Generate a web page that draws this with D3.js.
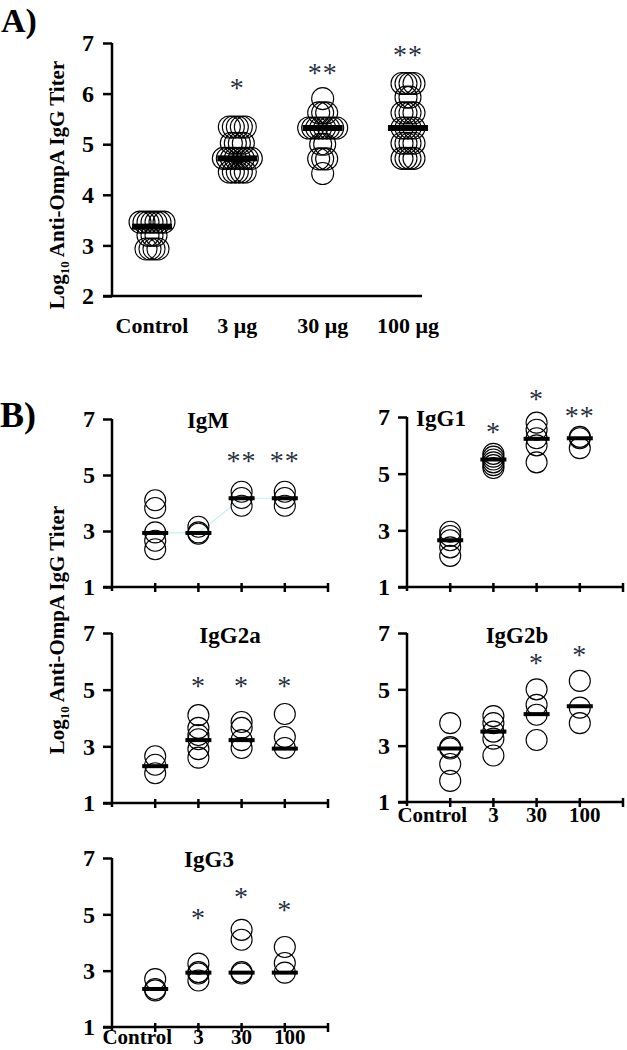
<!DOCTYPE html>
<html>
<head>
<meta charset="utf-8">
<script src="https://cdn.jsdelivr.net/npm/d3@7"></script>
<style>
html,body{margin:0;padding:0;background:#fff;}
svg{display:block;}
</style>
</head>
<body>
<svg id="chart" width="627" height="1050"></svg>
<script>
// ---------------- DATA ----------------
// Panel A
const groupsA = ["Control", "3 μg", "30 μg", "100 μg"];
const controlA = [3.46,3.46,3.46,3.46,3.46,3.46,3.46, 3.2,3.2,3.2, 2.93,2.93,2.93,2.93];
const dose3A   = [5.34,5.34,5.34,5.34,5.34, 5.02,5.02,5.02,5.02, 4.72,4.72,4.72,4.72,4.72,4.72,4.72,4.72, 4.45,4.45,4.45,4.45,4.45];
const dose30A  = [5.9, 5.62,5.62,5.62, 5.32,5.32,5.32,5.32,5.32,5.32,5.32,5.32, 5.0,5.0, 4.71,4.71,4.71, 4.42];
const dose100A = [6.2,6.2,6.2,6.2, 5.93,5.93, 5.62,5.62,5.62,5.62, 5.32,5.32,5.32,5.32, 5.02,5.02,5.02,5.02, 4.72,4.72,4.72,4.72];
const mediansA = [3.37, 4.72, 5.32, 5.32];
const starsA   = ["", "*", "**", "**"];
const starYA   = [null, 6.17, 6.47, 6.82];
const ticksA   = [2, 3, 4, 5, 6, 7];

// Panel B
const groupsB = ["Control", "3", "30", "100"];
const ticksB  = [1, 3, 5, 7];

const igmValues  = [[4.1,3.82,2.95,2.65,2.35],[3.15,2.95,2.9],[4.4,4.18,3.9],[4.4,4.18,3.9]];
const igmMedians = [2.93, 2.93, 4.17, 4.17];
const igmStars   = ["", "", "**", "**"];
const igmStarY   = [null, null, 5.6, 5.6];

const igg1Values  = [[2.95,2.8,2.65,2.4,2.1],[5.7,5.6,5.5,5.4,5.3,5.2],[6.8,6.55,6.25,6.0,5.4],[6.3,6.25,5.9]];
const igg1Medians = [2.65, 5.5, 6.23, 6.25];
const igg1Stars   = ["", "*", "*", "**"];
const igg1StarY   = [null, 6.58, 7.74, 7.14];

const igg2aValues  = [[2.65,2.35,2.05],[4.1,3.65,3.4,3.25,2.9,2.6],[3.86,3.65,3.22,2.94],[4.14,3.33,2.94]];
const igg2aMedians = [2.3, 3.22, 3.22, 2.92];
const igg2aStars   = ["", "*", "*", "*"];
const igg2aStarY   = [null, 5.24, 5.24, 5.24];

const igg2bValues  = [[3.8,2.95,2.9,2.35,1.75],[4.05,3.8,3.5,3.25,2.65],[5.0,4.45,4.1,3.2],[5.3,4.35,3.8]];
const igg2bMedians = [2.9, 3.5, 4.12, 4.4];
const igg2bStars   = ["", "", "*", "*"];
const igg2bStarY   = [null, null, 6.05, 6.33];

const igg3Values  = [[2.7,2.35,2.3],[3.25,2.95,2.9,2.65],[4.45,4.1,2.95,2.9],[3.84,3.27,2.93]];
const igg3Medians = [2.35, 2.93, 2.93, 2.93];
const igg3Stars   = ["", "*", "*", "*"];
const igg3StarY   = [null, 4.98, 5.72, 5.26];

// ---------------- DRAWING ----------------
const FONT = "'Liberation Serif','Times New Roman',Times,serif";
const STAR_COLOR = "#27303f";
const svg = d3.select("#chart");

function jitterOffsets(vals, step) {
  const counts = d3.rollup(vals, v => v.length, d => d);
  const seen = new Map();
  return vals.map(v => {
    const n = counts.get(v);
    const k = seen.get(v) || 0;
    seen.set(v, k + 1);
    return (k - (n - 1) / 2) * step;
  });
}

function styleAxis(g, fs) {
  g.select(".domain").remove();
  g.selectAll(".tick line").attr("stroke", "#000").attr("stroke-width", 2.5);
  g.selectAll(".tick text")
    .attr("font-family", FONT).attr("font-weight", "bold")
    .attr("font-size", fs).attr("fill", "#000");
}

function drawStar(g, x, y, s) {
  g.append("text")
    .attr("x", x).attr("y", y + 12)
    .attr("text-anchor", "middle")
    .attr("font-family", FONT).attr("font-size", 28)
    .attr("fill", STAR_COLOR)
    .attr("letter-spacing", 1)
    .text(s);
}

function yLabel(cx, cy) {
  const t = svg.append("text")
    .attr("transform", `translate(${cx},${cy}) rotate(-90)`)
    .attr("text-anchor", "middle")
    .attr("font-family", FONT).attr("font-weight", "bold")
    .attr("font-size", 21).attr("fill", "#000");
  t.append("tspan").text("Log");
  t.append("tspan").attr("font-size", 13).attr("dy", 5).text("10");
  t.append("tspan").attr("dy", -5).text(" Anti-OmpA IgG Titer");
}

// ---- Panel A ----
(function () {
  const axisX = 112;
  const y = d3.scaleLinear().domain([2, 7]).range([296, 43]);
  const x = d3.scaleLinear().domain([0, 3]).range([152, 408]);
  const g = svg.append("g");

  g.append("g").attr("transform", `translate(${axisX},0)`)
    .call(d3.axisLeft(y).tickValues(ticksA).tickSize(9).tickPadding(9).tickFormat(d3.format("d")))
    .call(a => styleAxis(a, 24));
  g.append("line").attr("x1", axisX).attr("x2", axisX).attr("y1", y(7)).attr("y2", y(2) + 1)
    .attr("stroke", "#000").attr("stroke-width", 2.5);
  g.append("line").attr("x1", axisX - 9).attr("x2", 422).attr("y1", y(2)).attr("y2", y(2))
    .attr("stroke", "#000").attr("stroke-width", 2.5);

  const seriesA = [controlA, dose3A, dose30A, dose100A];
  seriesA.forEach((vals, i) => {
    const offs = jitterOffsets(vals, 4);
    g.selectAll(null).data(vals).enter().append("circle")
      .attr("cx", (d, j) => x(i) + offs[j])
      .attr("cy", d => y(d))
      .attr("r", 11)
      .attr("fill", "none").attr("stroke", "#000").attr("stroke-width", 1.1);
  });
  g.selectAll(null).data(mediansA).enter().append("rect")
    .attr("x", (d, i) => x(i) - 20).attr("y", d => y(d) - 3)
    .attr("width", 40).attr("height", 6).attr("fill", "#000");
  starsA.forEach((s, i) => { if (s) drawStar(g, x(i), y(starYA[i]), s); });

  g.selectAll(null).data(groupsA).enter().append("text")
    .attr("x", (d, i) => x(i)).attr("y", 333)
    .attr("text-anchor", "middle")
    .attr("font-family", FONT).attr("font-weight", "bold").attr("font-size", 22)
    .text(d => d);

  svg.append("text").attr("x", 1).attr("y", 32)
    .attr("font-family", FONT).attr("font-weight", "bold").attr("font-size", 34).text("A)");
  yLabel(64, 185);
})();

// ---- Panel B ----
const labelShift = [-18, 0, 0, 5];
const panelsB = [
  {title: "IgM",   vals: igmValues,   med: igmMedians,   stars: igmStars,   starY: igmStarY,   ax: 112, top: 419, bot: 587, tx: 208, ty: 428, labels: false, link: true},
  {title: "IgG1",  vals: igg1Values,  med: igg1Medians,  stars: igg1Stars,  starY: igg1StarY,  ax: 407, top: 417, bot: 587, tx: 441, ty: 426, labels: false, link: false},
  {title: "IgG2a", vals: igg2aValues, med: igg2aMedians, stars: igg2aStars, starY: igg2aStarY, ax: 112, top: 633, bot: 803, tx: 230, ty: 643, labels: false, link: false},
  {title: "IgG2b", vals: igg2bValues, med: igg2bMedians, stars: igg2bStars, starY: igg2bStarY, ax: 407, top: 633, bot: 802, tx: 517, ty: 643, labels: true,  link: false},
  {title: "IgG3",  vals: igg3Values,  med: igg3Medians,  stars: igg3Stars,  starY: igg3StarY,  ax: 112, top: 858, bot: 1027, tx: 209, ty: 867, labels: true, link: false}
];

panelsB.forEach(p => {
  const g = svg.append("g");
  const y = d3.scaleLinear().domain([1, 7]).range([p.bot, p.top]);
  const x = d3.scaleLinear().domain([0, 5]).range([p.ax, p.ax + 216]);

  g.append("g").attr("transform", `translate(${p.ax},0)`)
    .call(d3.axisLeft(y).tickValues(ticksB).tickSize(9).tickPadding(8).tickFormat(d3.format("d")))
    .call(a => styleAxis(a, 24));
  g.append("line").attr("x1", p.ax).attr("x2", p.ax).attr("y1", y(7)).attr("y2", y(1) + 4)
    .attr("stroke", "#000").attr("stroke-width", 2.5);
  g.append("line").attr("x1", p.ax - 9).attr("x2", x(5)).attr("y1", y(1)).attr("y2", y(1))
    .attr("stroke", "#000").attr("stroke-width", 2.5);
  g.selectAll(null).data([1, 2, 3, 4, 5]).enter().append("line")
    .attr("x1", d => x(d)).attr("x2", d => x(d))
    .attr("y1", y(1) - 4).attr("y2", y(1) + 5)
    .attr("stroke", "#000").attr("stroke-width", 2.5);

  if (p.link) {
    g.append("path")
      .attr("d", d3.line().x((d, i) => x(i + 1)).y(d => y(d))(p.med))
      .attr("fill", "none").attr("stroke", "#bdf3f3").attr("stroke-width", 1.2);
  }

  p.vals.forEach((vals, i) => {
    g.selectAll(null).data(vals).enter().append("circle")
      .attr("cx", x(i + 1)).attr("cy", d => y(d)).attr("r", 10.5)
      .attr("fill", "none").attr("stroke", "#000").attr("stroke-width", 1.1);
  });
  g.selectAll(null).data(p.med).enter().append("rect")
    .attr("x", (d, i) => x(i + 1) - 13).attr("y", d => y(d) - 2)
    .attr("width", 26).attr("height", 4).attr("fill", "#000");
  p.stars.forEach((s, i) => { if (s) drawStar(g, x(i + 1), y(p.starY[i]), s); });

  g.append("text").attr("x", p.tx).attr("y", p.ty)
    .attr("text-anchor", "middle")
    .attr("font-family", FONT).attr("font-weight", "bold").attr("font-size", 23)
    .text(p.title);

  if (p.labels) {
    g.selectAll(null).data(groupsB).enter().append("text")
      .attr("x", (d, i) => x(i + 1) + labelShift[i]).attr("y", Math.min(y(1) + 20, 1044))
      .attr("text-anchor", "middle")
      .attr("font-family", FONT).attr("font-weight", "bold").attr("font-size", 21)
      .text(d => d);
  }
});

svg.append("text").attr("x", 0).attr("y", 427)
  .attr("font-family", FONT).attr("font-weight", "bold").attr("font-size", 36).text("B)");
yLabel(64, 630);
</script>
</body>
</html>
